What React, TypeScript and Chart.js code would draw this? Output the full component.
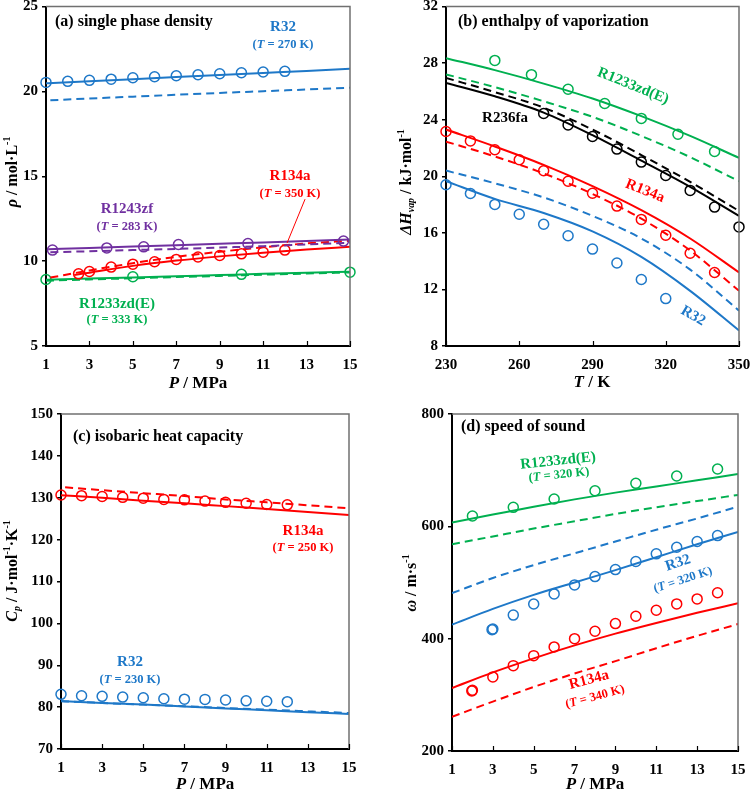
import React, { useEffect, useRef } from 'react';
import { Chart, registerables } from 'chart.js';
Chart.register(...registerables);

// ---------- colours ----------
const BLUE = '#1E78C8';
const RED = '#FF0000';
const GREEN = '#00B050';
const PURPLE = '#7030A0';
const BLACK = '#000000';
const SERIF = '"Liberation Serif", "Times New Roman", serif';

// ---------- (a) single phase density ----------
const aXTicks = [1, 3, 5, 7, 9, 11, 13, 15];
const aYTicks = [5, 10, 15, 20, 25];
const aLineP = [1, 3, 5, 7, 9, 11, 13, 15];
const aDashP = [1.2, 3, 5, 7, 9, 11, 13, 15];
const aR32P = [1, 2, 3, 4, 5, 6, 7, 8, 9, 10, 11, 12];
const aR32Exp = [20.53, 20.59, 20.65, 20.72, 20.8, 20.86, 20.92, 20.98, 21.04, 21.1, 21.14, 21.18];
const aR32Solid = [20.48, 20.6, 20.72, 20.84, 20.96, 21.08, 21.2, 21.33];
const aR32Dash = [19.47, 19.58, 19.69, 19.8, 19.91, 20.01, 20.11, 20.22];
const aR1243P = [1.3, 3.8, 5.5, 7.1, 10.3, 14.7];
const aR1243Exp = [10.65, 10.78, 10.84, 10.98, 11.04, 11.18];
const aR1243LineP = [1.1, 3, 5, 7, 9, 11, 13, 15];
const aR1243Solid = [10.7, 10.78, 10.86, 10.94, 11.02, 11.1, 11.19, 11.28];
const aR1243Dash = [10.52, 10.58, 10.65, 10.72, 10.8, 10.88, 10.98, 11.08];
const aR134P = [2.5, 3, 4, 5, 6, 7, 8, 9, 10, 11, 12];
const aR134Exp = [9.25, 9.39, 9.65, 9.82, 9.96, 10.1, 10.24, 10.33, 10.43, 10.53, 10.65];
const aR134SolidP = [2.3, 3, 5, 7, 9, 11, 13, 15];
const aR134Solid = [9.18, 9.32, 9.72, 10.03, 10.28, 10.5, 10.68, 10.85];
const aR134Dash = [9.03, 9.45, 9.88, 10.25, 10.55, 10.82, 11.04, 11.2];
const aR1233P = [1, 5, 10, 15];
const aR1233Exp = [8.92, 9.08, 9.22, 9.35];
const aR1233Solid = [8.9, 8.97, 9.04, 9.11, 9.18, 9.25, 9.31, 9.38];
const aR1233Dash = [8.85, 8.92, 8.99, 9.06, 9.13, 9.2, 9.27, 9.33];
const aArrowFrom = [12.93, 13.65];
const aArrowTo = [12.1, 11.06];

// ---------- (b) enthalpy of vaporization ----------
const bXTicks = [230, 260, 290, 320, 350];
const bYTicks = [8, 12, 16, 20, 24, 28, 32];
const bLineT = [230, 250, 270, 290, 310, 330, 350];
const bR1233T = [250, 265, 280, 295, 310, 325, 340];
const bR1233Exp = [28.19, 27.18, 26.15, 25.14, 24.09, 22.97, 21.75];
const bR1233Solid = [28.35, 27.5, 26.55, 25.5, 24.25, 22.85, 21.3];
const bR1233Dash = [27.2, 26.3, 25.3, 24.2, 22.85, 21.35, 19.65];
const bR236T = [270, 280, 290, 300, 310, 320, 330, 340, 350];
const bR236Exp = [24.44, 23.63, 22.81, 21.92, 21.0, 20.05, 19.0, 17.82, 16.42];
const bR236Solid = [26.6, 25.65, 24.5, 22.9, 21.1, 19.25, 17.2];
const bR236Dash = [26.95, 25.95, 24.85, 23.3, 21.5, 19.6, 17.55];
const bR134T = [230, 240, 250, 260, 270, 280, 290, 300, 310, 320, 330, 340];
const bR134Exp = [23.16, 22.5, 21.87, 21.17, 20.39, 19.65, 18.8, 17.89, 16.95, 15.83, 14.56, 13.2];
const bR134Solid = [23.3, 22.1, 20.8, 19.3, 17.6, 15.6, 13.2];
const bR134Dash = [22.45, 21.4, 20.2, 18.75, 17.0, 14.75, 11.9];
const bR32T = [230, 240, 250, 260, 270, 280, 290, 300, 310, 320];
const bR32Exp = [19.4, 18.78, 18.01, 17.31, 16.61, 15.79, 14.85, 13.87, 12.7, 11.35];
const bR32Solid = [19.65, 18.4, 17.4, 16.1, 14.3, 11.9, 9.1];
const bR32Dash = [20.4, 19.5, 18.5, 17.2, 15.6, 13.4, 10.5];

// ---------- (c) isobaric heat capacity ----------
const cXTicks = [1, 3, 5, 7, 9, 11, 13, 15];
const cYTicks = [70, 80, 90, 100, 110, 120, 130, 140, 150];
const cLineP = [1, 3, 5, 7, 9, 11, 13, 15];
const cDashP = [1.2, 3, 5, 7, 9, 11, 13, 15];
const cExpP = [1, 2, 3, 4, 5, 6, 7, 8, 9, 10, 11, 12];
const cR134Exp = [130.66, 130.5, 130.3, 130.1, 129.9, 129.6, 129.5, 129.2, 128.9, 128.7, 128.4, 128.3];
const cR134Solid = [130.6, 130.0, 129.3, 128.7, 128.0, 127.3, 126.6, 125.9];
const cR134Dash = [132.5, 131.8, 131.1, 130.4, 129.6, 128.9, 128.2, 127.5];
const cR32Exp = [83.06, 82.73, 82.58, 82.4, 82.25, 82.0, 81.9, 81.85, 81.7, 81.5, 81.4, 81.3];
const cR32Solid = [81.46, 81.0, 80.6, 80.15, 79.7, 79.25, 78.8, 78.36];
const cR32Dash = [81.4, 81.0, 80.6, 80.2, 79.8, 79.4, 79.0, 78.6];

// ---------- (d) speed of sound ----------
const dXTicks = [1, 3, 5, 7, 9, 11, 13, 15];
const dYTicks = [200, 400, 600, 800];
const dLineP = [1, 3, 5, 7, 9, 11, 13, 15];
const dR1233P = [2, 4, 6, 8, 10, 12, 14];
const dR1233Exp = [618.4, 633.8, 648.6, 663.4, 676.5, 689.6, 702];
const dR1233Solid = [607, 621, 635, 648, 660, 671, 682, 693];
const dR1233Dash = [568, 582, 596, 609, 622, 634, 645, 656];
const dR32P = [2.96, 3, 4, 5, 6, 7, 8, 9, 10, 11, 12, 13, 14];
const dR32Exp = [416, 417, 442, 461.7, 479.7, 495.7, 510.5, 523, 537.3, 551, 562.8, 573, 583.5];
const dR32Solid = [425, 453, 478, 500, 522, 545, 568, 590];
const dR32Dash = [481, 508, 531, 552, 573, 594, 614, 635];
const dR134P = [1.97, 2, 3, 4, 5, 6, 7, 8, 9, 10, 11, 12, 13, 14];
const dR134Exp = [307, 308, 331.9, 352, 369.8, 385.3, 400, 413.1, 426.8, 439.9, 450.6, 461.9, 470.8, 481.8];
const dR134Solid = [312, 340, 365, 388, 409, 428, 446, 463];
const dR134Dash = [261, 288, 314, 338, 360, 383, 405, 426];

// ---------- helpers ----------
type Seg = { t: string; i?: boolean; sub?: boolean; sup?: boolean };
type Label = { segs: Seg[]; x: number; y: number; size: number; color: string; rot?: number; align?: 'left' | 'center' };

const zip = (xs: number[], ys: number[]) => xs.map((x, k) => ({ x, y: ys[k] }));
const lineDs = (xs: number[], ys: number[], color: string, dashed = false) => ({
  data: zip(xs, ys),
  showLine: true,
  borderColor: color,
  borderWidth: 2,
  borderDash: dashed ? [8, 5] : [],
  pointRadius: 0,
  fill: false,
  cubicInterpolationMode: 'monotone',
});
const ptDs = (xs: number[], ys: number[], color: string) => ({
  data: zip(xs, ys),
  showLine: false,
  borderColor: color,
  backgroundColor: 'rgba(0,0,0,0)',
  pointRadius: 5,
  pointBorderWidth: 1.5,
  pointBorderColor: color,
  pointBackgroundColor: 'rgba(0,0,0,0)',
  clip: false,
});
const TK = (n: string): Seg[] => [{ t: '(' }, { t: 'T', i: true }, { t: ` = ${n} K)` }];
const S = (t: string): Seg[] => [{ t }];

function segFont(s: Seg, size: number) {
  const sz = s.sub || s.sup ? size * 0.62 : size;
  return `${s.i ? 'italic ' : ''}bold ${sz}px ${SERIF}`;
}
function drawRich(ctx: CanvasRenderingContext2D, L: Label) {
  ctx.save();
  ctx.translate(L.x, L.y);
  if (L.rot) ctx.rotate((L.rot * Math.PI) / 180);
  ctx.fillStyle = L.color;
  ctx.textBaseline = 'middle';
  ctx.textAlign = 'left';
  let total = 0;
  const widths = L.segs.map((s) => {
    ctx.font = segFont(s, L.size);
    const w = ctx.measureText(s.t).width;
    total += w;
    return w;
  });
  let x = L.align === 'left' ? 0 : -total / 2;
  L.segs.forEach((s, k) => {
    ctx.font = segFont(s, L.size);
    const dy = s.sup ? -L.size * 0.33 : s.sub ? L.size * 0.28 : 0;
    ctx.fillText(s.t, x, dy);
    x += widths[k];
  });
  ctx.restore();
}

type PanelCfg = {
  xMin: number; xMax: number; yMin: number; yMax: number;
  xTicks: number[]; yTicks: number[];
  area: { left: number; right: number; top: number; bottom: number };
  datasets: any[];
  labels: Label[];
  arrow?: { from: number[]; to: number[]; color: string };
};

function buildConfig(cfg: PanelCfg, w: number, h: number): any {
  const tickFont = { family: SERIF, weight: 'bold', size: 15 };
  const deco = {
    id: 'deco',
    afterDraw(chart: any) {
      const ctx = chart.ctx as CanvasRenderingContext2D;
      const a = chart.chartArea;
      ctx.save();
      // top and right frame
      ctx.strokeStyle = '#707070';
      ctx.lineWidth = 1.5;
      ctx.beginPath();
      ctx.moveTo(a.left, a.top);
      ctx.lineTo(a.right, a.top);
      ctx.lineTo(a.right, a.bottom);
      ctx.stroke();
      // inner x tick marks
      ctx.strokeStyle = '#000';
      ctx.lineWidth = 1.2;
      const xs = chart.scales.x;
      cfg.xTicks.forEach((v) => {
        const px = Math.round(xs.getPixelForValue(v)) + 0.5;
        ctx.beginPath();
        ctx.moveTo(px, a.bottom);
        ctx.lineTo(px, a.bottom - 5);
        ctx.stroke();
      });
      if (cfg.arrow) {
        const ys = chart.scales.y;
        ctx.strokeStyle = cfg.arrow.color;
        ctx.lineWidth = 1;
        ctx.beginPath();
        ctx.moveTo(xs.getPixelForValue(cfg.arrow.from[0]), ys.getPixelForValue(cfg.arrow.from[1]));
        ctx.lineTo(xs.getPixelForValue(cfg.arrow.to[0]), ys.getPixelForValue(cfg.arrow.to[1]));
        ctx.stroke();
      }
      ctx.restore();
      cfg.labels.forEach((L) => drawRich(ctx, L));
    },
  };
  return {
    type: 'scatter',
    data: { datasets: cfg.datasets },
    options: {
      responsive: false,
      animation: false,
      devicePixelRatio: 1,
      events: [],
      layout: { padding: { top: cfg.area.top, right: w - cfg.area.right, left: 0, bottom: 0 } },
      plugins: { legend: { display: false }, tooltip: { enabled: false }, title: { display: false } },
      scales: {
        x: {
          type: 'linear',
          min: cfg.xMin,
          max: cfg.xMax,
          afterBuildTicks: (s: any) => { s.ticks = cfg.xTicks.map((v) => ({ value: v })); },
          ticks: { font: tickFont, color: '#000', padding: 10, maxRotation: 0, autoSkip: false },
          grid: { display: true, drawOnChartArea: false, drawTicks: false },
          border: { color: '#000', width: 2 },
          afterFit: (s: any) => { s.height = h - cfg.area.bottom; s.paddingLeft = 0; s.paddingRight = 0; },
        },
        y: {
          type: 'linear',
          min: cfg.yMin,
          max: cfg.yMax,
          afterBuildTicks: (s: any) => { s.ticks = cfg.yTicks.map((v) => ({ value: v })); },
          ticks: { font: tickFont, color: '#000', padding: 4, autoSkip: false },
          grid: { display: true, drawOnChartArea: false, drawTicks: true, tickLength: 4, color: '#000', lineWidth: 1.5 },
          border: { color: '#000', width: 2 },
          afterFit: (s: any) => { s.width = cfg.area.left; s.paddingTop = 0; s.paddingBottom = 0; },
        },
      },
    },
    plugins: [deco],
  };
}

// ---------- panel configs ----------
const panelA: PanelCfg = {
  xMin: 1, xMax: 15, yMin: 5, yMax: 25, xTicks: aXTicks, yTicks: aYTicks,
  area: { left: 46, right: 350, top: 6, bottom: 346 },
  datasets: [
    ptDs(aR32P, aR32Exp, BLUE),
    lineDs(aLineP, aR32Solid, BLUE),
    lineDs(aDashP, aR32Dash, BLUE, true),
    ptDs(aR1243P, aR1243Exp, PURPLE),
    lineDs(aR1243LineP, aR1243Solid, PURPLE),
    lineDs(aDashP, aR1243Dash, PURPLE, true),
    ptDs(aR134P, aR134Exp, RED),
    lineDs(aR134SolidP, aR134Solid, RED),
    lineDs(aDashP, aR134Dash, RED, true),
    ptDs(aR1233P, aR1233Exp, GREEN),
    lineDs(aLineP, aR1233Solid, GREEN),
    lineDs(aLineP, aR1233Dash, GREEN, true),
  ],
  arrow: { from: aArrowFrom, to: aArrowTo, color: RED },
  labels: [
    { segs: S('(a) single phase density'), x: 55, y: 22, size: 16, color: BLACK, align: 'left' },
    { segs: S('R32'), x: 283, y: 27, size: 15, color: BLUE },
    { segs: TK('270'), x: 283, y: 45, size: 12.5, color: BLUE },
    { segs: S('R134a'), x: 290, y: 176, size: 15, color: RED },
    { segs: TK('350'), x: 290, y: 194, size: 12.5, color: RED },
    { segs: S('R1243zf'), x: 127, y: 209, size: 15, color: PURPLE },
    { segs: TK('283'), x: 127, y: 227, size: 12.5, color: PURPLE },
    { segs: S('R1233zd(E)'), x: 117, y: 304, size: 15, color: GREEN },
    { segs: TK('333'), x: 117, y: 320, size: 12.5, color: GREEN },
    { segs: [{ t: 'ρ', i: true }, { t: ' / mol·L' }, { t: '-1', sup: true }], x: 13, y: 172, size: 16, color: BLACK, rot: -90 },
    { segs: [{ t: 'P', i: true }, { t: ' / MPa' }], x: 198, y: 384, size: 17, color: BLACK },
  ],
};

const panelB: PanelCfg = {
  xMin: 230, xMax: 350, yMin: 8, yMax: 32, xTicks: bXTicks, yTicks: bYTicks,
  area: { left: 71, right: 364, top: 4, bottom: 346 },
  datasets: [
    ptDs(bR1233T, bR1233Exp, GREEN),
    lineDs(bLineT, bR1233Solid, GREEN),
    lineDs(bLineT, bR1233Dash, GREEN, true),
    ptDs(bR236T, bR236Exp, BLACK),
    lineDs(bLineT, bR236Solid, BLACK),
    lineDs(bLineT, bR236Dash, BLACK, true),
    ptDs(bR134T, bR134Exp, RED),
    lineDs(bLineT, bR134Solid, RED),
    lineDs(bLineT, bR134Dash, RED, true),
    ptDs(bR32T, bR32Exp, BLUE),
    lineDs(bLineT, bR32Solid, BLUE),
    lineDs(bLineT, bR32Dash, BLUE, true),
  ],
  labels: [
    { segs: S('(b) enthalpy of vaporization'), x: 83, y: 22, size: 16, color: BLACK, align: 'left' },
    { segs: S('R1233zd(E)'), x: 258, y: 86, size: 15, color: GREEN, rot: 22 },
    { segs: S('R236fa'), x: 130, y: 118, size: 15, color: BLACK },
    { segs: S('R134a'), x: 270, y: 191, size: 15, color: RED, rot: 22 },
    { segs: S('R32'), x: 318, y: 316, size: 15, color: BLUE, rot: 30 },
    { segs: [{ t: 'ΔH', i: true }, { t: 'vap', i: true, sub: true }, { t: ' / kJ·mol' }, { t: '-1', sup: true }], x: 32, y: 182, size: 16, color: BLACK, rot: -90 },
    { segs: [{ t: 'T', i: true }, { t: ' / K' }], x: 217, y: 383, size: 17, color: BLACK },
  ],
};

const panelC: PanelCfg = {
  xMin: 1, xMax: 15, yMin: 70, yMax: 150, xTicks: cXTicks, yTicks: cYTicks,
  area: { left: 61, right: 349, top: 17, bottom: 352 },
  datasets: [
    ptDs(cExpP, cR134Exp, RED),
    lineDs(cLineP, cR134Solid, RED),
    lineDs(cDashP, cR134Dash, RED, true),
    ptDs(cExpP, cR32Exp, BLUE),
    lineDs(cLineP, cR32Solid, BLUE),
    lineDs(cLineP, cR32Dash, BLUE, true),
  ],
  labels: [
    { segs: S('(c) isobaric heat capacity'), x: 73, y: 40, size: 16, color: BLACK, align: 'left' },
    { segs: S('R134a'), x: 303, y: 134, size: 15, color: RED },
    { segs: TK('250'), x: 303, y: 151, size: 12.5, color: RED },
    { segs: S('R32'), x: 130, y: 265, size: 15, color: BLUE },
    { segs: TK('230'), x: 130, y: 283, size: 12.5, color: BLUE },
    { segs: [{ t: 'C', i: true }, { t: 'p', i: true, sub: true }, { t: ' / J·mol' }, { t: '-1', sup: true }, { t: '·K' }, { t: '-1', sup: true }], x: 13, y: 174, size: 16, color: BLACK, rot: -90 },
    { segs: [{ t: 'P', i: true }, { t: ' / MPa' }], x: 205, y: 388, size: 17, color: BLACK },
  ],
};

const panelD: PanelCfg = {
  xMin: 1, xMax: 15, yMin: 200, yMax: 800, xTicks: dXTicks, yTicks: dYTicks,
  area: { left: 77, right: 363, top: 17, bottom: 354 },
  datasets: [
    ptDs(dR1233P, dR1233Exp, GREEN),
    lineDs(dLineP, dR1233Solid, GREEN),
    lineDs(dLineP, dR1233Dash, GREEN, true),
    ptDs(dR32P, dR32Exp, BLUE),
    lineDs(dLineP, dR32Solid, BLUE),
    lineDs(dLineP, dR32Dash, BLUE, true),
    ptDs(dR134P, dR134Exp, RED),
    lineDs(dLineP, dR134Solid, RED),
    lineDs(dLineP, dR134Dash, RED, true),
  ],
  labels: [
    { segs: S('(d) speed of sound'), x: 86, y: 30, size: 16, color: BLACK, align: 'left' },
    { segs: S('R1233zd(E)'), x: 183, y: 64, size: 15, color: GREEN, rot: -6 },
    { segs: TK('320'), x: 184, y: 78, size: 12.5, color: GREEN, rot: -6 },
    { segs: S('R32'), x: 303, y: 166, size: 15, color: BLUE, rot: -18 },
    { segs: TK('320'), x: 308, y: 183, size: 12.5, color: BLUE, rot: -18 },
    { segs: S('R134a'), x: 214, y: 283, size: 15, color: RED, rot: -15 },
    { segs: TK('340'), x: 220, y: 300, size: 12.5, color: RED, rot: -15 },
    { segs: [{ t: 'ω', i: true }, { t: ' / m·s' }, { t: '-1', sup: true }], x: 37, y: 186, size: 16, color: BLACK, rot: -90 },
    { segs: [{ t: 'P', i: true }, { t: ' / MPa' }], x: 220, y: 388, size: 17, color: BLACK },
  ],
};

function Panel({ cfg, left, top, w, h }: { cfg: PanelCfg; left: number; top: number; w: number; h: number }) {
  const ref = useRef<HTMLCanvasElement>(null);
  useEffect(() => {
    if (!ref.current) return;
    const chart = new Chart(ref.current, buildConfig(cfg, w, h));
    return () => chart.destroy();
  }, []);
  return (
    <canvas
      ref={ref}
      width={w}
      height={h}
      style={{ position: 'absolute', left, top, width: w, height: h, display: 'block' }}
    />
  );
}

export default function App() {
  return (
    <div style={{ position: 'absolute', left: 0, top: 0, width: 750, height: 795, background: '#fff' }}>
      <Panel cfg={panelA} left={0} top={0} w={375} h={397} />
      <Panel cfg={panelB} left={375} top={0} w={375} h={397} />
      <Panel cfg={panelC} left={0} top={397} w={375} h={398} />
      <Panel cfg={panelD} left={375} top={397} w={375} h={398} />
    </div>
  );
}
